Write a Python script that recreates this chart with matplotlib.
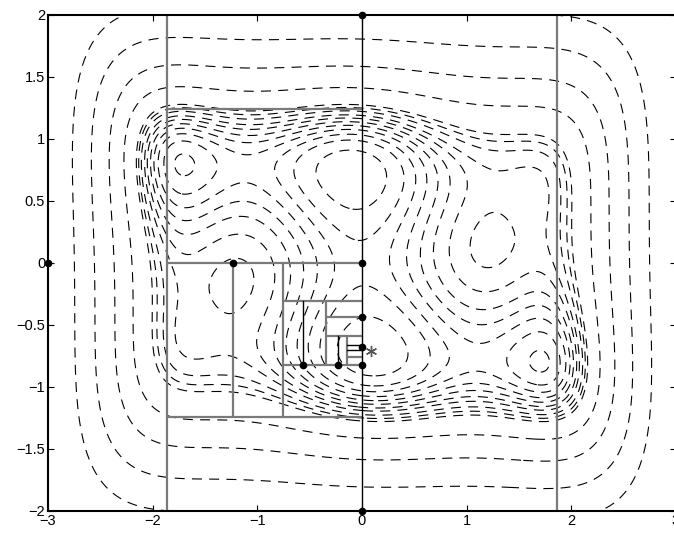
import numpy as np
import matplotlib.pyplot as plt

plt.rcParams['font.family'] = ['Liberation Sans', 'DejaVu Sans']
plt.rcParams['font.size'] = 10


def camel(x, y):
    # six-hump camel back function
    return (4 - 2.1 * x**2 + x**4 / 3) * x**2 + x * y + (-4 + 4 * y**2) * y**2


# contour levels of the objective
levels = [-0.62, -0.13, 0.27, 0.67, 1.07, 1.47, 1.92, 2.35, 2.95, 3.5, 4.05,
          7.9, 15.2, 29.5, 54.0]

# box boundaries (x0, y0, x1, y1)
gray_segs = [
    (-1.86, -2.0, -1.86, 2.0),
    (1.86, -2.0, 1.86, 2.0),
    (-1.86, 1.24, 0.0, 1.24),
    (-1.86, 0.0, 0.0, 0.0),
    (-1.86, -1.24, 0.0, -1.24),
    (-1.23, 0.0, -1.23, -1.24),
    (-0.755, 0.0, -0.755, -1.24),
    (-0.755, -0.31, 0.0, -0.31),
    (-0.755, -0.82, 0.0, -0.82),
    (-0.344, -0.31, -0.344, -0.82),
    (-0.344, -0.435, 0.0, -0.435),
    (-0.344, -0.585, 0.0, -0.585),
    (-0.14, -0.585, -0.14, -0.82),
    (-0.14, -0.755, 0.0, -0.755),
]
black_segs = [
    (0.0, -2.0, 0.0, 2.0),
    (-0.56, -0.31, -0.56, -0.82),
    (-0.226, -0.585, -0.226, -0.82),
    (-0.14, -0.66, 0.0, -0.66),
    (-0.14, -0.70, 0.0, -0.70),
]

# sampled points
pts_x = [0.0, 0.0, 0.0, -3.0, -1.23, -0.56, -0.226, 0.0, 0.0, 0.0]
pts_y = [2.0, 0.0, -2.0, 0.0, 0.0, -0.82, -0.82, -0.82, -0.435, -0.675]

# best point found
best_x = [0.0898]
best_y = [-0.7126]

xx, yy = np.meshgrid(np.linspace(-3, 3, 601), np.linspace(-2, 2, 401))
zz = camel(xx, yy)

fig = plt.figure(figsize=(6.74, 5.33), dpi=100)
ax = fig.add_axes([48 / 674, 22 / 533, 628 / 674, 496 / 533])

ax.contour(xx, yy, zz, levels=levels, colors='k', linewidths=0.8,
           linestyles=[(0, (9, 6.5))])

for x0, y0, x1, y1 in gray_segs:
    ax.plot([x0, x1], [y0, y1], color='#7a7a7a', lw=1.6, solid_capstyle='butt')
for x0, y0, x1, y1 in black_segs:
    ax.plot([x0, x1], [y0, y1], color='k', lw=1.0)

ax.plot(pts_x, pts_y, 'k.', ms=9, clip_on=False, zorder=5)
ax.plot(best_x, best_y, marker=(6, 2, 0), color='#555555', ms=8, mew=1.0,
        ls='none', zorder=5)

ax.set_xlim(-3, 3)
ax.set_ylim(-2, 2)
ax.set_xticks(np.arange(-3, 4, 1))
ax.set_yticks(np.arange(-2, 2.5, 0.5))
ax.set_yticklabels(['\u22122', '\u22121.5', '\u22121', '\u22120.5', '0',
                    '0.5', '1', '1.5', '2'])
ax.set_xticklabels(['\u22123', '\u22122', '\u22121', '0', '1', '2', '3'])
ax.tick_params(direction='in', top=True, right=True, length=4, width=0.8,
               pad=2, labelsize=10.5)
for s in ax.spines.values():
    s.set_linewidth(1.5)

fig.savefig('out.png', dpi=100)
